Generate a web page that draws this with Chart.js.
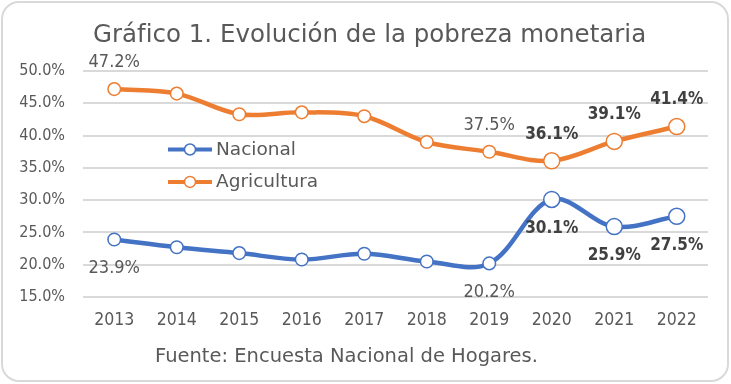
<!DOCTYPE html>
<html lang="es">
<head>
<meta charset="utf-8">
<script src="https://cdn.jsdelivr.net/npm/chart.js@4"></script>
<style>
  body { margin: 0; background: #ffffff; }
  #marco { position: relative; width: 731px; height: 384px; overflow: hidden; }
  #borde { position: absolute; left: 1px; top: 1px; width: 728px; height: 381px; box-sizing: border-box;
           border: 2px solid #d9d9d9; border-radius: 18px; pointer-events: none; }
  #titulo { position: absolute; left: 93px; top: 22px; font: 24.5px 'DejaVu Sans', sans-serif;
            line-height: 24.5px; color: #595959; white-space: nowrap; }
  #fuente { position: absolute; left: 155px; top: 346px; font: 19.5px 'DejaVu Sans', sans-serif;
            line-height: 19.5px; color: #595959; white-space: nowrap; }
  canvas { position: absolute; left: 0; top: 0; }
</style>
</head>
<body>
<div id="marco">
  <canvas id="grafico" width="731" height="384"></canvas>
  <div id="titulo">Gráfico 1. Evolución de la pobreza monetaria</div>
  <div id="fuente">Fuente: Encuesta Nacional de Hogares.</div>
  <div id="borde"></div>
</div>
<script>
// Datos del gráfico
const anios = ['2013', '2014', '2015', '2016', '2017', '2018', '2019', '2020', '2021', '2022'];
const nacional = [23.9, 22.7, 21.8, 20.8, 21.7, 20.5, 20.2, 30.1, 25.9, 27.5];
const agricultura = [47.2, 46.5, 43.3, 43.6, 43.0, 39.0, 37.5, 36.1, 39.1, 41.4];
// etiquetas visibles: null = sin etiqueta
const etiquetasNacional = ['normal', null, null, null, null, null, 'normal', 'bold', 'bold', 'bold'];
const etiquetasAgricultura = ['normal', null, null, null, null, null, 'normal', 'bold', 'bold', 'bold'];
const ticksY = [15, 20, 25, 30, 35, 40, 45, 50];

const NUMEROS = "'DejaVu Sans Condensed', 'DejaVu Sans', sans-serif";
const TEXTO = "'DejaVu Sans', sans-serif";
const AZUL = '#4472C4';
const NARANJA = '#ED7D31';
const GRIS = '#595959';

// Etiquetas de datos (arriba para Agricultura, abajo para Nacional)
const etiquetasPlugin = {
    id: 'etiquetas',
    afterDatasetsDraw(chart) {
        const ctx = chart.ctx;
        ctx.save();
        ctx.textAlign = 'center';
        ctx.textBaseline = 'middle';
        chart.data.datasets.forEach((ds, i) => {
            const meta = chart.getDatasetMeta(i);
            meta.data.forEach((pt, j) => {
                const estilo = ds.etiquetas[j];
                if (!estilo) return;
                ctx.font = (estilo === 'bold' ? 'bold 17px ' : '18px ') + NUMEROS;
                ctx.fillStyle = estilo === 'bold' ? '#404040' : GRIS;
                const dy = ds.posEtiqueta === 'arriba' ? -26.5 : 29;
                ctx.fillText(ds.data[j].toFixed(1) + '%', pt.x, pt.y + dy);
            });
        });
        ctx.restore();
    }
};

// Leyenda dentro del área del gráfico
const leyendaPlugin = {
    id: 'leyenda',
    afterDraw(chart) {
        const ctx = chart.ctx;
        ctx.save();
        chart.data.datasets.forEach((ds, i) => {
            const y = 149.5 + i * 32.4;
            ctx.strokeStyle = ds.borderColor;
            ctx.lineWidth = 4;
            ctx.beginPath();
            ctx.moveTo(168, y);
            ctx.lineTo(212, y);
            ctx.stroke();
            ctx.beginPath();
            ctx.arc(190, y, 5.5, 0, Math.PI * 2);
            ctx.fillStyle = '#ffffff';
            ctx.fill();
            ctx.lineWidth = 1.5;
            ctx.stroke();
            ctx.font = '18.5px ' + TEXTO;
            ctx.fillStyle = GRIS;
            ctx.textAlign = 'left';
            ctx.textBaseline = 'middle';
            ctx.fillText(ds.label, 216, y + 0.5);
        });
        ctx.restore();
    }
};

function serie(label, datos, color, etiquetas, pos) {
    return {
        label: label,
        data: datos,
        borderColor: color,
        backgroundColor: '#ffffff',
        borderWidth: 4.5,
        // los puntos destacados (etiqueta en negrita) son un poco más grandes
        pointRadius: c => etiquetas[c.dataIndex] === 'bold' ? 8 : 6.3,
        pointBorderWidth: 1.5,
        pointBackgroundColor: '#ffffff',
        pointBorderColor: color,
        tension: 0.35,
        etiquetas: etiquetas,
        posEtiqueta: pos
    };
}

new Chart(document.getElementById('grafico').getContext('2d'), {
    type: 'line',
    data: {
        labels: anios,
        datasets: [
            serie('Nacional', nacional, AZUL, etiquetasNacional, 'abajo'),
            serie('Agricultura', agricultura, NARANJA, etiquetasAgricultura, 'arriba')
        ]
    },
    options: {
        responsive: false,
        animation: false,
        layout: { padding: { top: 71, right: 23, bottom: 47, left: 0 } },
        plugins: {
            legend: { display: false },
            tooltip: { enabled: false }
        },
        scales: {
            x: {
                offset: true,
                grid: { display: false },
                border: { display: false },
                ticks: { color: GRIS, font: { family: NUMEROS, size: 17.5 }, padding: 5, maxRotation: 0 },
                afterFit(scale) { scale.height = 40; }
            },
            y: {
                min: ticksY[0],
                max: ticksY[ticksY.length - 1],
                afterBuildTicks(scale) { scale.ticks = ticksY.map(v => ({ value: v })); },
                grid: { color: '#d9d9d9', lineWidth: 2, drawTicks: false },
                border: { display: false },
                ticks: {
                    color: GRIS,
                    font: { family: NUMEROS, size: 16 },
                    padding: 18,
                    callback: v => v.toFixed(1) + '%'
                },
                afterFit(scale) { scale.width = 83; }
            }
        }
    },
    plugins: [etiquetasPlugin, leyendaPlugin]
});
</script>
</body>
</html>
